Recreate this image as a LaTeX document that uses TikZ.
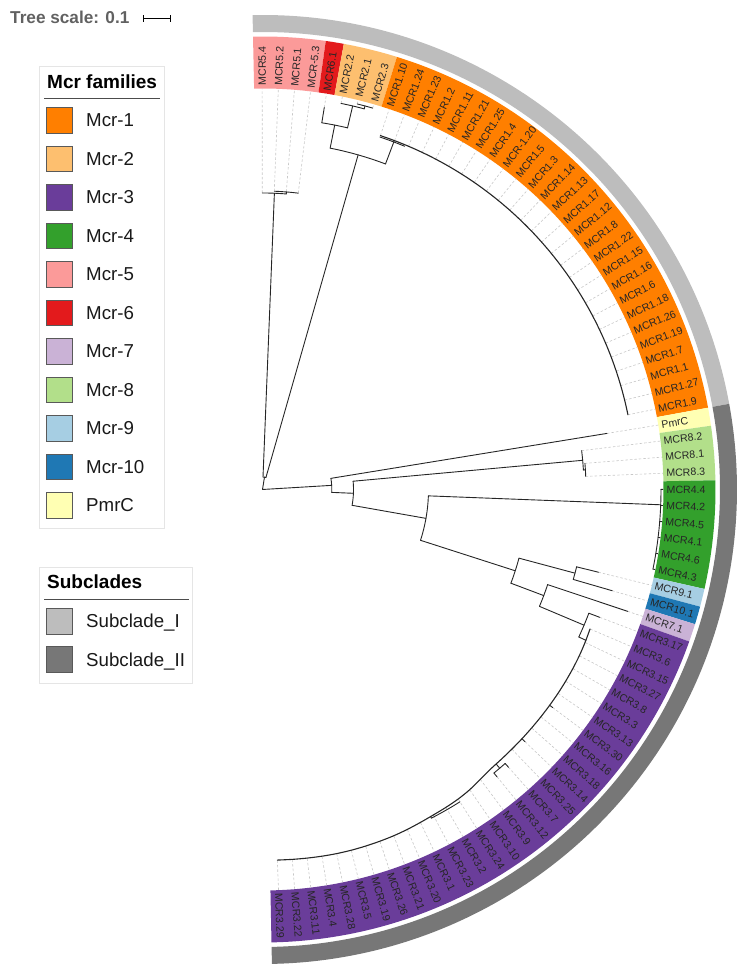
\documentclass[tikz,border=0pt]{standalone}
\usepackage{fontspec}
\setmainfont{Liberation Sans}
\definecolor{cA}{HTML}{FF7F00}
\definecolor{cB}{HTML}{FDBF6F}
\definecolor{cC}{HTML}{6A3D9A}
\definecolor{cD}{HTML}{33A02C}
\definecolor{cE}{HTML}{FB9A99}
\definecolor{cF}{HTML}{E31A1C}
\definecolor{cG}{HTML}{CAB2D6}
\definecolor{cH}{HTML}{B2DF8A}
\definecolor{cI}{HTML}{A6CEE3}
\definecolor{cJ}{HTML}{1F78B4}
\definecolor{cP}{HTML}{FFFFB3}
\definecolor{sI}{HTML}{BDBDBD}
\definecolor{sII}{HTML}{777777}
\newcommand\tbr[3]{\draw[br] (#1:#2) -- (#1:#3);}
\newcommand\tarc[3]{\draw[br] (#1:#3) arc[start angle=#1,end angle=#2,radius=#3];}
\newcommand\famseg[3]{\pgfmathsetmacro\myA{91.2-#1*2.3085}\pgfmathsetmacro\myB{91.2-#2*2.3085}%
  \fill[#3] (\myA:401) arc[start angle=\myA,end angle=\myB,radius=401] -- (\myB:453) arc[start angle=\myB,end angle=\myA,radius=453] -- cycle;}
\begin{document}
\begin{tikzpicture}[x=1pt,y=1pt,
  br/.style={line width=0.9pt, black!85, line cap=round},
  leafdash/.style={draw=black!22, dash pattern=on 2.5pt off 2pt, line width=0.6pt},
  leaflab/.style={anchor=west, inner sep=0pt, text=black!85, font=\fontsize{10.6}{12}\selectfont},
  swatch/.style={draw=black!65, line width=0.8pt, minimum size=25.7pt, inner sep=0pt},
  legtext/.style={anchor=base west, inner sep=0pt, text=black!90, font=\fontsize{18.7}{22}\selectfont},
  legtitle/.style={anchor=base west, inner sep=0pt, text=black, font=\bfseries\fontsize{19}{22}\selectfont},
  legbox/.style={draw=black!10, line width=0.8pt}]
\useasboundingbox (0,0) rectangle (746,973);
% ---------------- tree scale
\node[anchor=base west, inner sep=0pt, text=black!62, font=\bfseries\fontsize{17.2}{19}\selectfont] (tscale) at (10,949.7) {Tree scale: 0.1};
\coordinate (sbA) at (143.3,954.7);
\coordinate (sbB) at (170,954.7);
\draw[line width=1pt] (sbA) -- (sbB);
\draw[line width=1pt] ([yshift=-3.3pt]sbA) -- ([yshift=3.3pt]sbA);
\draw[line width=1pt] ([yshift=-3.3pt]sbB) -- ([yshift=3.3pt]sbB);
% ---------------- legend: families
\draw[legbox] (39.3,906.3) rectangle (164.3,444.3);
\node[legtitle] (famtitle) at (47,884.7) {Mcr families};
\draw[line width=1.2pt, black!70] (44,874.3) -- (160,874.3);
\foreach \nm/\col [count=\k from 0] in {Mcr-1/cA, Mcr-2/cB, Mcr-3/cC, Mcr-4/cD, Mcr-5/cE, Mcr-6/cF, Mcr-7/cG, Mcr-8/cH, Mcr-9/cI, Mcr-10/cJ, PmrC/cP}{
  \pgfmathsetmacro\cy{973-(120.3+38.5*\k)}
  \node[swatch, fill=\col] (fam\k) at (59.15,\cy) {};
  \node[legtext] (famt\k) at (86,\cy-6.7) {\nm};
}
% ---------------- legend: subclades
\draw[legbox] (39.3,405.7) rectangle (192.7,289.7);
\node[legtitle] (subtitle) at (47,384.7) {Subclades};
\draw[line width=1.2pt, black!70] (44,373.7) -- (189,373.7);
\node[swatch, fill=sI] (subA) at (59.15,973-621.2) {};
\node[legtext] (subAt) at (86,973-621.2-6.7) {Subclade\_I};
\node[swatch, fill=sII] (subB) at (59.15,973-659.7) {};
\node[legtext] (subBt) at (86,973-659.7-6.7) {Subclade\_II};
% ---------------- circular tree
\begin{scope}[shift={(262.5,483.5)}]
  % subclade ring
  \fill[sI] (91.2:457.5) arc[start angle=91.2,end angle=10.4025,radius=457.5] -- (10.4025:474.5) arc[start angle=10.4025,end angle=91.2,radius=474.5] -- cycle;
  \fill[sII] (10.4025:457.5) arc[start angle=10.4025,end angle=-88.863,radius=457.5] -- (-88.863:474.5) arc[start angle=-88.863,end angle=10.4025,radius=474.5] -- cycle;
  % family strip
  \famseg{0}{4}{cE}
  \famseg{4}{5}{cF}
  \famseg{5}{8}{cB}
  \famseg{8}{35}{cA}
  \famseg{35}{36}{cP}
  \famseg{36}{39}{cH}
  \famseg{39}{45}{cD}
  \famseg{45}{46}{cI}
  \famseg{46}{47}{cJ}
  \famseg{47}{48}{cG}
  \famseg{48}{78}{cC}
  % leaves: dashed guides and labels
  \foreach \lab/\ltip [count=\i from 0] in {
    MCR5.4/296.5, MCR5.2/298.5, MCR5.1/298.5, MCR-5.3/298.5, MCR6.1/387,
    MCR2.2/394, MCR2.1/397, MCR2.3/397,
    MCR1.10/373, MCR1.24/373, MCR1.23/373, MCR1.2/373, MCR1.11/373, MCR1.21/373,
    MCR1.25/373, MCR1.4/373, MCR-1.20/373, MCR1.5/373, MCR1.3/373, MCR1.14/373,
    MCR1.13/373, MCR1.17/373, MCR1.12/373, MCR1.8/373, MCR1.22/373, MCR1.15/373,
    MCR1.16/373, MCR1.6/373, MCR1.18/373, MCR1.26/373, MCR1.19/373, MCR1.7/373,
    MCR1.1/373, MCR1.27/373, MCR1.9/373,
    PmrC/349, MCR8.2/321.5, MCR8.1/323.5, MCR8.3/323.5,
    MCR4.4/400.5, MCR4.2/400.5, MCR4.5/400.5, MCR4.1/400.5, MCR4.6/400.5, MCR4.3/400.5,
    MCR9.1/346, MCR10.1/364, MCR7.1/385, MCR3.17/360.7,
    MCR3.6/356.3, MCR3.15/357.3, MCR3.27/358.1, MCR3.8/358.6, MCR3.3/359,
    MCR3.13/359.3, MCR3.30/363, MCR3.16/359.7, MCR3.18/359.9, MCR3.14/364,
    MCR3.25/360.3, MCR3.7/371, MCR3.12/371, MCR3.9/362.8, MCR3.10/365.1,
    MCR3.24/366.5, MCR3.2/367.3, MCR3.23/367.9, MCR3.1/368.8, MCR3.20/369.8,
    MCR3.21/370.6, MCR3.26/371.1, MCR3.19/371.5, MCR3.5/371.8, MCR3.28/371.9,
    MCR3.4/371.8, MCR3.11/371.6, MCR3.22/371.4, MCR3.29/371.2}{
    \pgfmathsetmacro\myT{91.2-(\i+0.5)*2.3085}
    \draw[leafdash] (\myT:\ltip) -- (\myT:401);
    \node[leaflab, rotate=\myT] (L\i) at (\myT:404) {\lab};
  }
  % ---- branches: subclade I
  \tbr{80.9}{0}{12.5}
  \tarc{87.7}{74.05}{12.5}
  \tbr{87.7}{12.5}{296.5}
  \tarc{90.046}{85.4}{296.5}
  \tbr{85.4}{296.5}{298.5}
  \tarc{87.737}{83.12}{298.5}
  \tbr{74.05}{12.5}{348}
  \tarc{78.79}{69.3}{348}
  \tbr{78.79}{348}{371.5}
  \tarc{80.812}{76.77}{371.5}
  \tbr{80.812}{371.5}{387}
  \tbr{76.77}{371.5}{394}
  \tarc{78.503}{75.04}{394}
  \tbr{75.04}{394}{397}
  \tarc{76.195}{73.886}{397}
  \tbr{69.3}{348}{373}
  \draw[br, line width=1.1pt] (71.578:373) arc[start angle=71.578,end angle=11.557,radius=373];
  \tarc{71.578}{67.5}{371.5}
  % ---- branches: subclade II
  \tbr{3.42}{0}{69.3}
  \tarc{9.249}{-2.4}{69.3}
  \tbr{9.249}{69.3}{349}
  \tbr{-2.4}{69.3}{91}
  \tarc{5.21}{-10.02}{91}
  \tbr{5.21}{91}{321.5}
  \tarc{6.94}{3.478}{321.5}
  \tbr{3.478}{321.5}{323.5}
  \tarc{4.632}{2.323}{323.5}
  \tbr{-10.02}{91}{166}
  \tarc{-2.2}{-17.83}{166}
  \tbr{-2.2}{166}{398.5}
  \tarc{0.015}{-11.528}{398.5}
  \foreach \j in {39,...,44}{\pgfmathsetmacro\myT{91.2-(\j+0.5)*2.3085}\draw[br] (\myT:398.5) -- (\myT:400.5);}
  \tbr{-17.83}{166}{265.5}
  \tarc{-14.99}{-20.67}{265.5}
  \tbr{-14.99}{265.5}{323.5}
  \tarc{-13.837}{-16.145}{323.5}
  \tbr{-13.837}{323.5}{346}
  \tbr{-16.145}{323.5}{364}
  \tbr{-20.67}{265.5}{300.6}
  \tarc{-18.454}{-22.88}{300.6}
  \tbr{-18.454}{300.6}{385}
  \tbr{-22.88}{300.6}{349}
  \tarc{-20.762}{-25}{349}
  \tbr{-20.762}{349}{360.7}
  \tbr{-25}{349}{357}
  % MCR-3 main clade (collapsed near-zero branches)
  \draw[br, line width=1.1pt] plot[smooth] coordinates {(-23.07:356) (-25.38:357) (-27.69:357.8) (-30.00:358.3) (-32.31:358.7) (-34.61:359) (-36.92:359.2) (-39.23:359.4) (-41.54:359.6) (-43.85:359.8) (-46.16:360) (-48.47:360.3) (-50.78:360.8) (-53.09:362.5) (-55.39:364.8) (-57.70:366.2) (-60.01:367) (-62.32:367.6) (-64.63:368.5) (-66.94:369.5) (-69.25:370.3) (-71.56:370.8) (-73.87:371.2) (-76.17:371.5) (-78.48:371.6) (-80.79:371.5) (-83.10:371.3) (-85.40:371.1) (-87.71:370.9)};
  \tbr{-36.92}{359.2}{363}
  \tbr{-43.85}{359.8}{364}
  \tbr{-49.6}{360.5}{366}
  \tarc{-48.47}{-50.78}{366}
  \tbr{-48.47}{366}{371}
  \tbr{-50.78}{366}{371}
  \tarc{-57.7}{-62.8}{369.5}
  \tbr{-62.8}{367.6}{369.5}
\end{scope}
\end{tikzpicture}
\end{document}
